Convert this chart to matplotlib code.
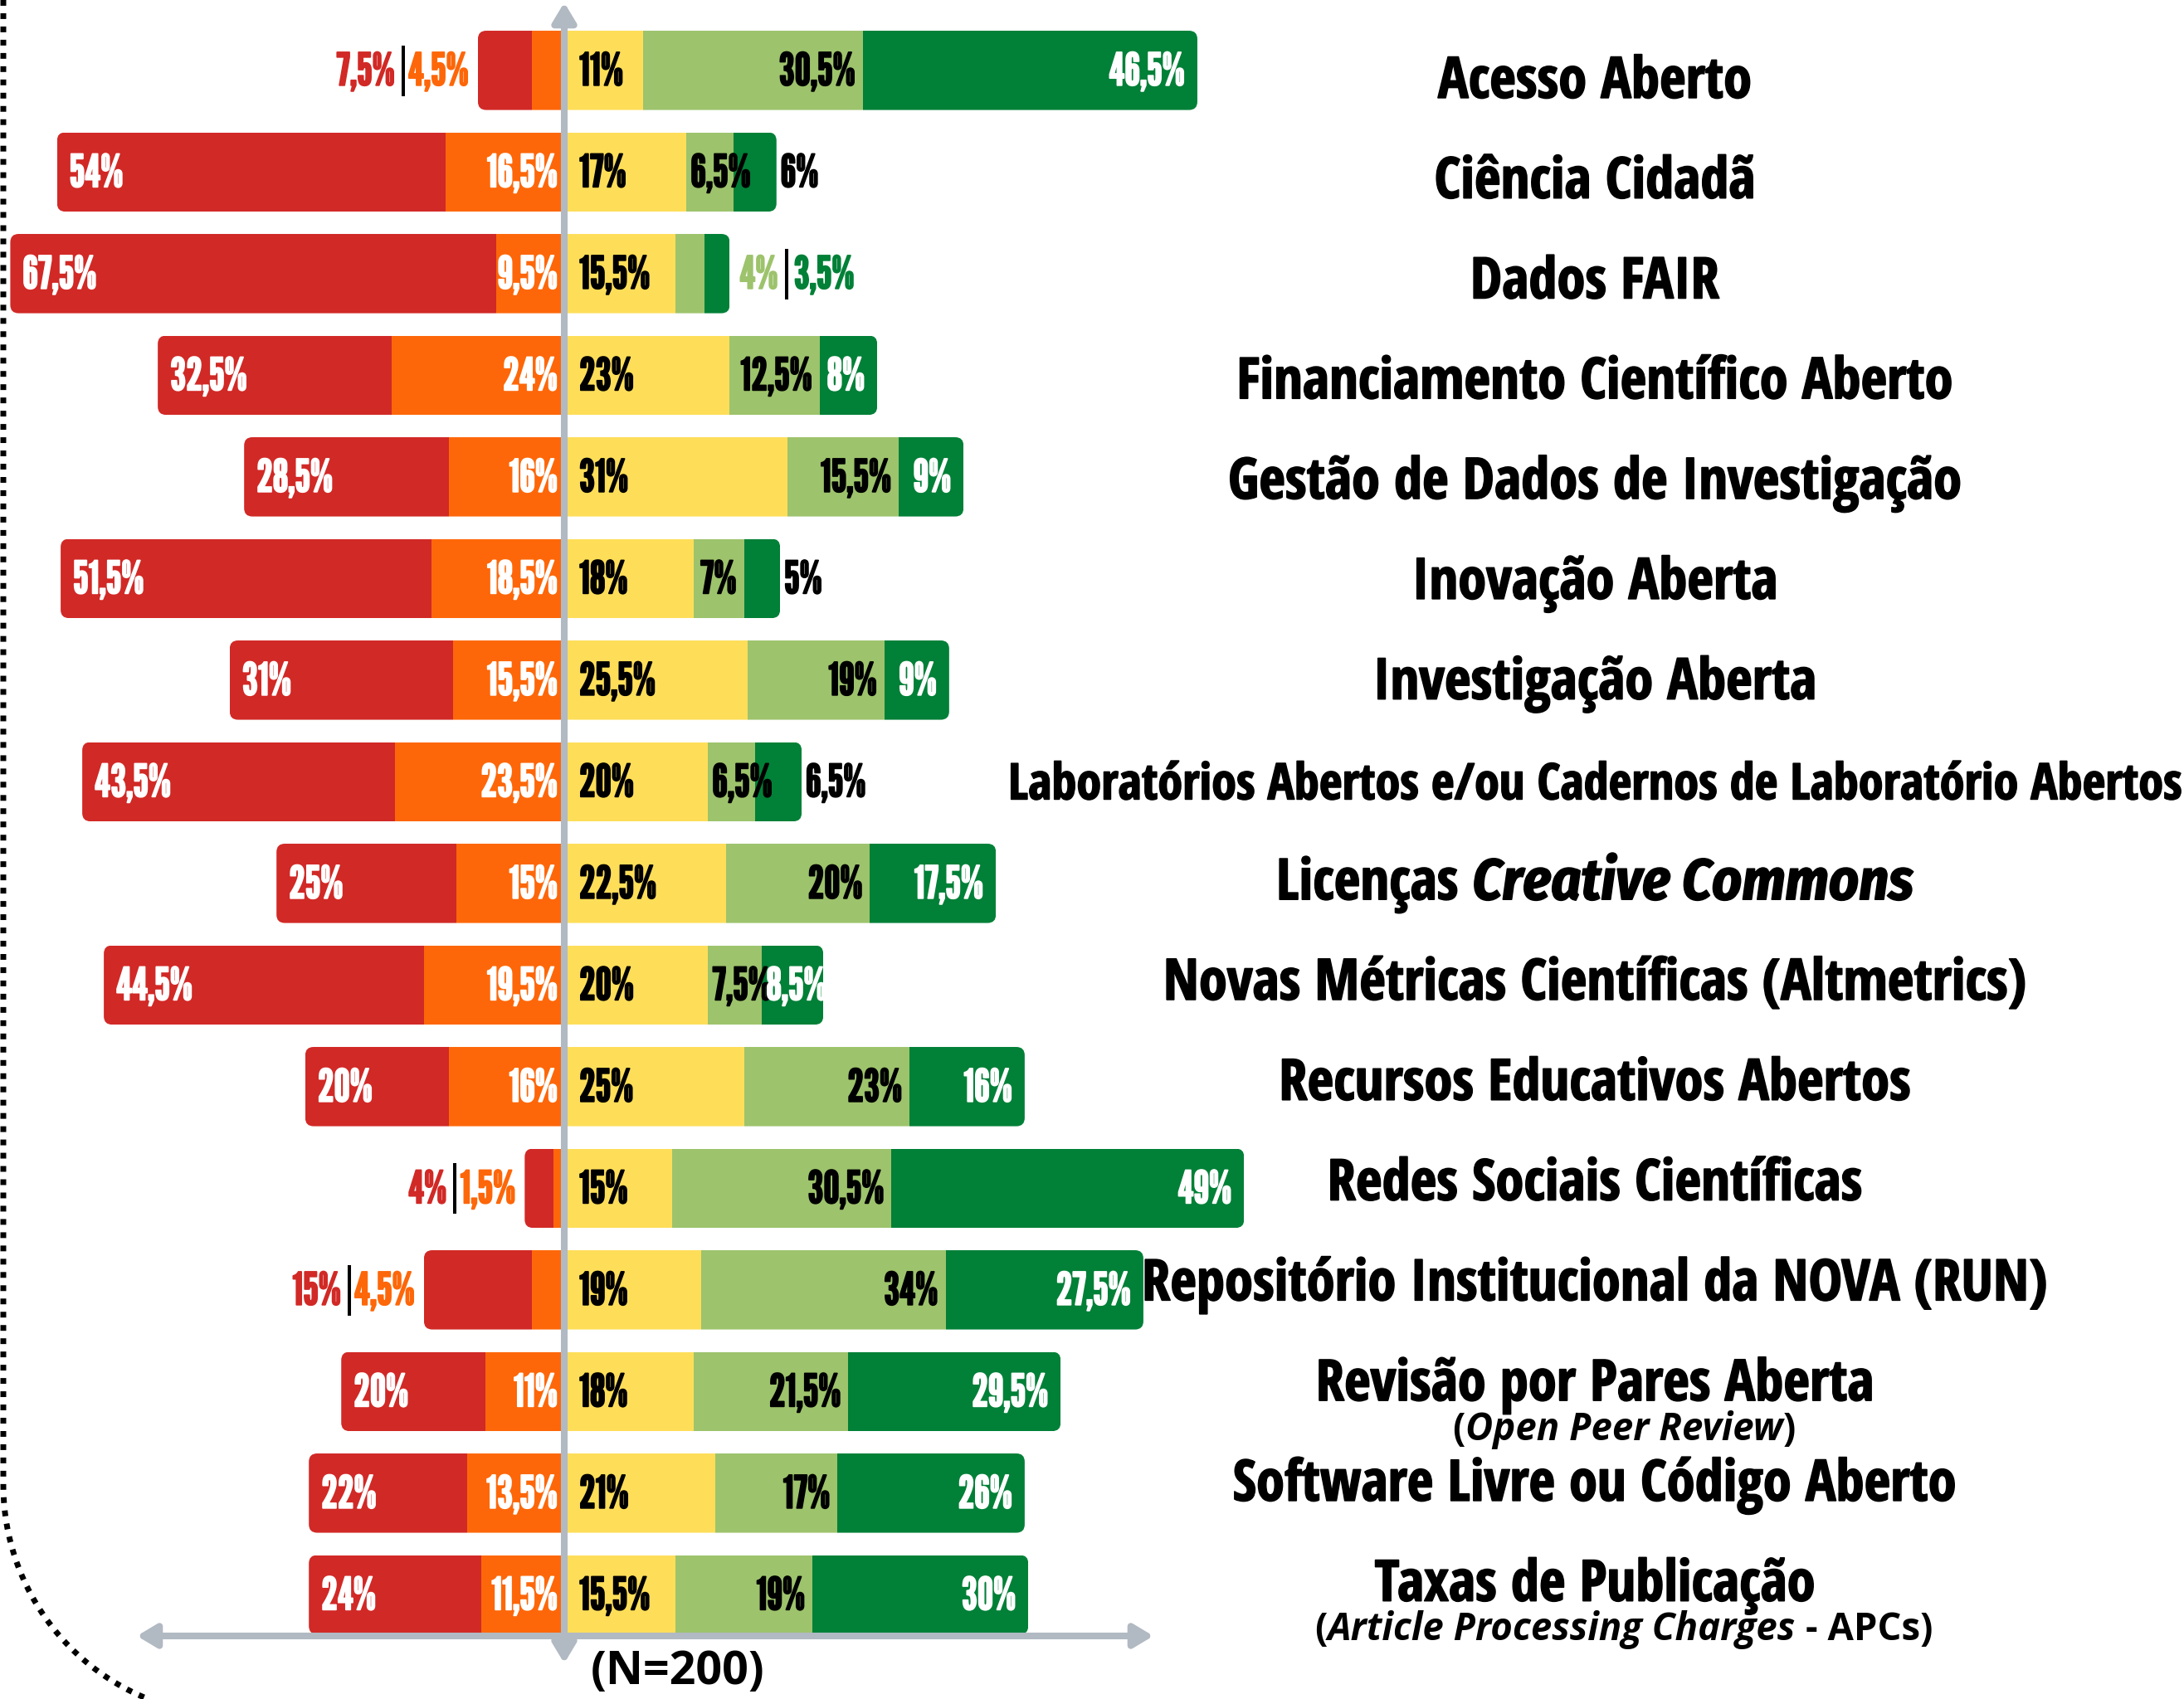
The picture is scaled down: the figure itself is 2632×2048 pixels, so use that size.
import matplotlib
matplotlib.use("Agg")
import numpy as np
import matplotlib.pyplot as plt
import matplotlib.patheffects as pe
from matplotlib.patches import FancyBboxPatch

# ---- dados (percentagens, N=200) ----
categorias = [
    "Acesso Aberto",
    "Ciência Cidadã",
    "Dados FAIR",
    "Financiamento Científico Aberto",
    "Gestão de Dados de Investigação",
    "Inovação Aberta",
    "Investigação Aberta",
    "Laboratórios Abertos e/ou Cadernos de Laboratório Abertos",
    "Licenças Creative Commons",
    "Novas Métricas Científicas (Altmetrics)",
    "Recursos Educativos Abertos",
    "Redes Sociais Científicas",
    "Repositório Institucional da NOVA (RUN)",
    "Revisão por Pares Aberta",
    "Software Livre ou Código Aberto",
    "Taxas de Publicação",
]
subtitulos = {
    "Revisão por Pares Aberta": "(Open Peer Review)",
    "Taxas de Publicação": "(Article Processing Charges - APCs)",
}
termos_italico = ["Creative Commons", "Open Peer Review", "Article Processing Charges"]

nivel_1 = [7.5, 54, 67.5, 32.5, 28.5, 51.5, 31, 43.5, 25, 44.5, 20, 4, 15, 20, 22, 24]
nivel_2 = [4.5, 16.5, 9.5, 24, 16, 18.5, 15.5, 23.5, 15, 19.5, 16, 1.5, 4.5, 11, 13.5, 11.5]
nivel_3 = [11, 17, 15.5, 23, 31, 18, 25.5, 20, 22.5, 20, 25, 15, 19, 18, 21, 15.5]
nivel_4 = [30.5, 6.5, 4, 12.5, 15.5, 7, 19, 6.5, 20, 7.5, 23, 30.5, 34, 21.5, 17, 19]
nivel_5 = [46.5, 6, 3.5, 8, 9, 5, 9, 6.5, 17.5, 8.5, 16, 49, 27.5, 29.5, 26, 30]
n_texto = "(N=200)"

# ---- estilo ----
VERMELHO = "#D12926"
LARANJA = "#FD6709"
AMARELO = "#FEDE59"
VERDE_CLARO = "#9DC36C"
VERDE = "#018037"
CINZA = "#B1B9C2"
cores = [VERMELHO, LARANJA, AMARELO, VERDE_CLARO, VERDE]

W, H = 2632, 2048
PX_X = 8.67      # pixels per percentage point
PX_Y = 122.5     # pixels per row
X0_PX = 680      # pixel column of the 0 line
Y0_PX = 84.8     # pixel row of the first bar
BAR_H = 0.78
RAIO = 10

PCT = dict(family=["League Gothic", "Oswald", "DejaVu Sans"], fontsize=39)
ROT = dict(family="Open Sans Condensed", weight="bold", fontsize=49.5)
ROT_IT = dict(family="Fira Sans Condensed", weight="bold", style="italic", fontsize=50)
SUB = dict(family="Open Sans", weight="bold", fontsize=32.8)
SUB_IT = dict(family="Open Sans", weight="bold", style="italic", fontsize=32.8)

fig = plt.figure(figsize=(W / 100, H / 100), dpi=100)
ax = fig.add_axes([0, 0, 1, 1])
ax.set_xlim(-X0_PX / PX_X, (W - X0_PX) / PX_X)
ax.set_ylim((H - Y0_PX) / PX_Y, -Y0_PX / PX_Y)
ax.axis("off")
renderer = fig.canvas.get_renderer()


def dx(px):
    return px / PX_X


def dy(px):
    return px / PX_Y


def fmt(v):
    return f"{v:g}".replace(".", ",") + "%"


def largura(t):
    return t.get_window_extent(renderer).width / PX_X


def pct(x, y, v, cor, ha):
    t = ax.text(x, y + dy(18), fmt(v), color=cor, ha=ha, va="baseline", zorder=5, **PCT)
    t.set_path_effects([pe.withStroke(linewidth=1.3, foreground=cor)])
    return t


def pct_dentro(ini, fim, y, v, cor, margem):
    # right-aligned inside the segment; slides left-aligned if it does not fit
    t = pct(fim - dx(margem), y, v, cor, "right")
    if fim - dx(margem) - largura(t) < ini + dx(2):
        t.set_x(ini + dx(5))
        t.set_ha("left")
    return t


def separador(x, y):
    ax.plot([x, x], [y - dy(30), y + dy(31)], color="black", lw=2.9,
            solid_capstyle="butt", zorder=5)


def partes(texto):
    p = [(texto, False)]
    for termo in termos_italico:
        novo = []
        for s, it in p:
            if not it and termo in s:
                a, b = s.split(termo, 1)
                if a:
                    novo.append((a, False))
                novo.append((termo, True))
                if b:
                    novo.append((b, False))
            else:
                novo.append((s, it))
        p = novo
    return p


def rotulo(xc, y, texto, base, ital, max_w=None, traco=0):
    escala = 1.0
    for _ in range(3):
        pedacos = []
        total = 0
        for s, it in partes(texto):
            props = dict(ital if it else base)
            props["fontsize"] *= escala
            t = ax.text(0, y, s.strip(), va="baseline", ha="left", zorder=5, **props)
            if traco:
                t.set_path_effects([pe.withStroke(linewidth=traco, foreground="black")])
            a = ax.text(0, y, "a a", **props)
            b = ax.text(0, y, "aa", **props)
            esp = largura(a) - largura(b)
            a.remove()
            b.remove()
            pre = (len(s) - len(s.lstrip())) * esp
            pos = (len(s) - len(s.rstrip())) * esp
            w = largura(t)
            pedacos.append((t, pre, w, pos))
            total += pre + w + pos
        if max_w is None or total <= max_w:
            break
        for t, *_ in pedacos:
            t.remove()
        escala *= max_w / total
    x = xc - total / 2
    for t, pre, w, pos in pedacos:
        x += pre
        t.set_x(x)
        x += w + pos


# ---- barras ----
for i in range(len(categorias)):
    r, o, a, vc, vd = nivel_1[i], nivel_2[i], nivel_3[i], nivel_4[i], nivel_5[i]
    esq = -(r + o)
    dir_ = a + vc + vd
    clip = FancyBboxPatch((esq, i - BAR_H / 2), dir_ - esq, BAR_H,
                          boxstyle=f"round,pad=0,rounding_size={dx(RAIO)}",
                          mutation_aspect=PX_X / PX_Y, transform=ax.transData)
    lefts = [esq, -o, 0, a, a + vc]
    bars = ax.barh([i] * 5, [r, o, a, vc, vd], left=lefts, height=BAR_H,
                   color=cores, linewidth=0, zorder=2)
    for b in bars:
        b.set_clip_path(clip)

    # lado esquerdo
    if o < 5:
        t = pct(esq - dx(11), i, o, LARANJA, "right")
        xs = esq - dx(11) - largura(t) - dx(6)
        separador(xs, i)
        pct(xs - dx(10), i, r, VERMELHO, "right")
    else:
        pct(esq + dx(15), i, r, "white", "left")
        pct(-dx(8), i, o, "white", "right")

    # lado direito
    pct(dx(18), i, a, "black", "left")
    if vc < 5:
        t = pct(dir_ + dx(12), i, vc, VERDE_CLARO, "left")
        xs = dir_ + dx(12) + largura(t) + dx(10)
        separador(xs, i)
        pct(xs + dx(9), i, vd, VERDE, "left")
    else:
        pct_dentro(a, a + vc, i, vc, "black", 9)
        if vd <= 6.5:
            pct(dir_ + dx(5), i, vd, "black", "left")
        else:
            pct_dentro(a + vc, dir_, i, vd, "white", 15)

    # rótulo da categoria
    y_rot = 0.27 + i * 0.986
    rotulo(dx(1922 - X0_PX), y_rot, categorias[i], ROT, ROT_IT, max_w=dx(1415), traco=1.2)
    if categorias[i] in subtitulos:
        rotulo(dx(1957 - X0_PX), y_rot + 0.39, subtitulos[categorias[i]], SUB, SUB_IT)

# ---- eixos com setas ----
seta = dict(arrowstyle="<|-|>,head_length=0.7,head_width=0.42", mutation_scale=20,
            color=CINZA, lw=5.8, shrinkA=0, shrinkB=0, joinstyle="round", capstyle="round")
ax.annotate("", xy=(0, dy(3 - Y0_PX)), xytext=(0, dy(2005 - Y0_PX)), arrowprops=seta, zorder=3)
ax.annotate("", xy=(dx(165 - X0_PX), dy(1972 - Y0_PX)), xytext=(dx(1390 - X0_PX), dy(1972 - Y0_PX)),
            arrowprops=seta, zorder=3)

ax.text(dx(817 - X0_PX), dy(2030 - Y0_PX), n_texto, ha="center", va="baseline",
        family="Open Sans", weight="bold", fontsize=40, zorder=5)

# ---- moldura pontilhada ----
ov = fig.add_axes([0, 0, 1, 1], zorder=-1)
ov.set_xlim(0, W)
ov.set_ylim(H, 0)
ov.axis("off")
th = np.linspace(0, np.radians(80), 60)
bx = np.concatenate([[4], 282 - 278 * np.cos(th)])
by = np.concatenate([[0], 1790 + 278 * np.sin(th)])
ov.plot(bx, by, color="black", lw=5, linestyle=(0, (1, 1.3)))

fig.savefig("out.png", dpi=100)
